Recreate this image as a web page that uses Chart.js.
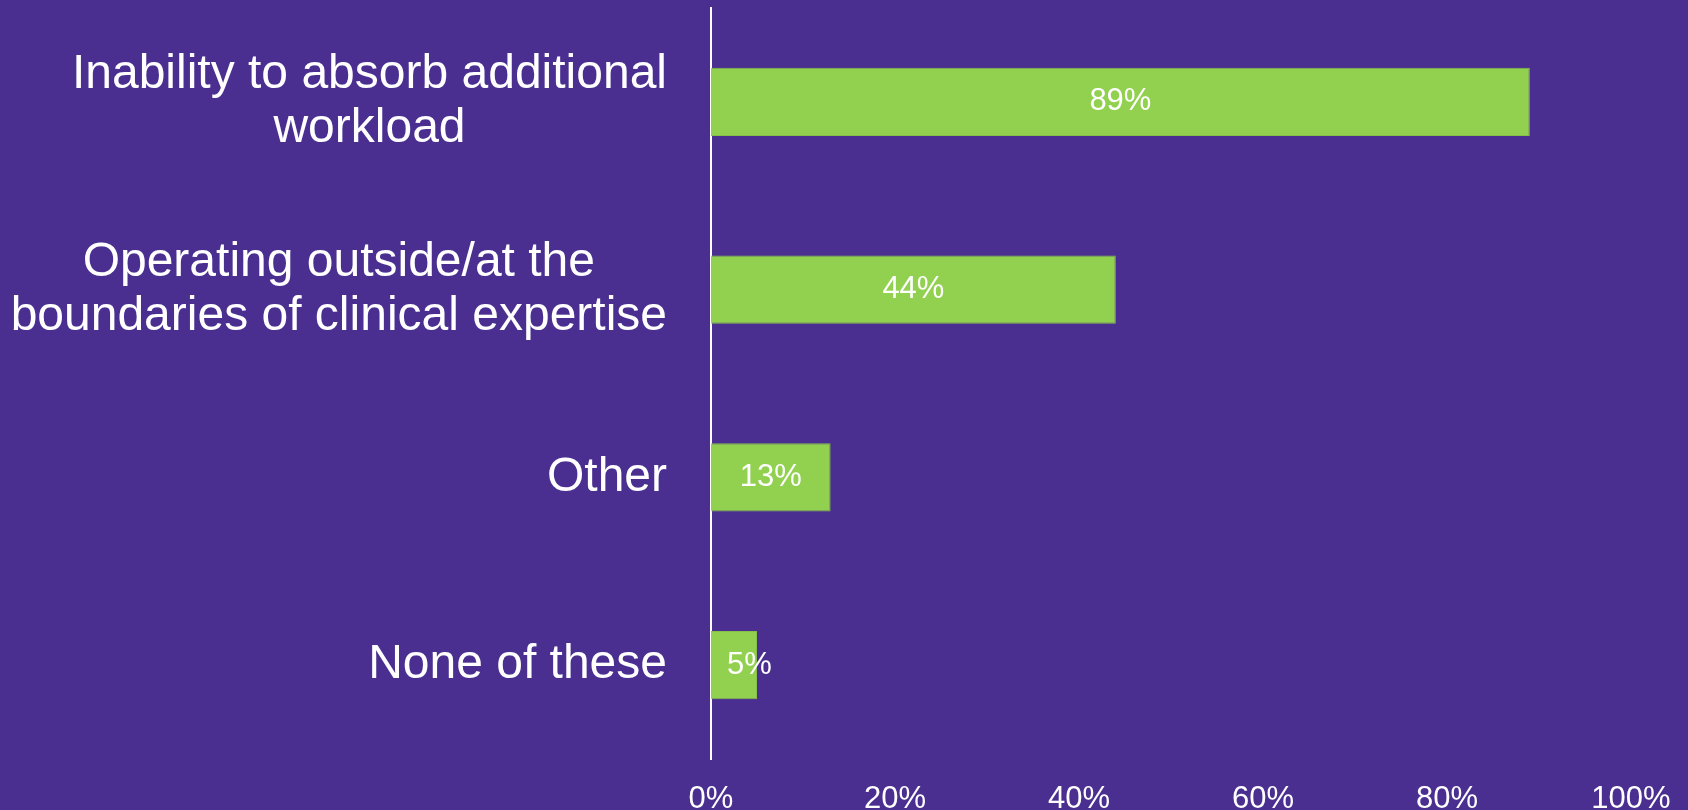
<!DOCTYPE html>
<html>
<head>
<meta charset="utf-8">
<script src="https://cdn.jsdelivr.net/npm/chart.js@4.4.1/dist/chart.umd.min.js"></script>
<style>
html, body { margin: 0; padding: 0; background: #4A2F91; overflow: hidden; }
</style>
</head>
<body>
<canvas id="myChart" width="1688" height="810"></canvas>
<script>
const categories = [
    ['Inability to absorb additional', 'workload'],
    ['Operating outside/at the', 'boundaries of clinical expertise'],
    ['Other'],
    ['None of these']
];
const values = [89, 44, 13, 5];
const tickValues = [0, 20, 40, 60, 80, 100];

const FONT = "'Liberation Sans', Arial, sans-serif";

// category labels: block right aligned, lines centred inside the block
const categoryLabels = {
    id: 'categoryLabels',
    afterDraw(chart) {
        const ctx = chart.ctx;
        const scale = chart.scales.y;
        const rightEdge = chart.chartArea.left - 44;
        const lineHeight = 54;
        ctx.save();
        ctx.font = '48px ' + FONT;
        ctx.fillStyle = '#ffffff';
        ctx.textAlign = 'center';
        ctx.textBaseline = 'middle';
        categories.forEach((lines, i) => {
            const y = scale.getPixelForTick(i);
            const widest = Math.max(...lines.map(l => ctx.measureText(l).width));
            const cx = rightEdge - widest / 2;
            lines.forEach((line, j) => {
                ctx.fillText(line, cx, y + (j - (lines.length - 1) / 2) * lineHeight);
            });
        });
        ctx.restore();
    }
};

// value labels in the middle of each bar (kept a little off the axis for short bars)
const barLabels = {
    id: 'barLabels',
    afterDatasetsDraw(chart) {
        const ctx = chart.ctx;
        const meta = chart.getDatasetMeta(0);
        ctx.save();
        ctx.font = '31px ' + FONT;
        ctx.fillStyle = '#ffffff';
        ctx.textAlign = 'center';
        ctx.textBaseline = 'middle';
        meta.data.forEach((bar, i) => {
            const txt = values[i] + '%';
            const w = ctx.measureText(txt).width;
            const cx = Math.max((bar.x + bar.base) / 2, bar.base + 16 + w / 2);
            ctx.fillText(txt, cx, bar.y);
        });
        ctx.restore();
    }
};

const data = {
    labels: categories,
    datasets: [
        {
            data: values,
            backgroundColor: '#92D050',
            borderColor: '#86C048',
            borderWidth: 1,
            borderSkipped: 'start',
            barPercentage: 0.363,
            categoryPercentage: 1,
        }
    ]
};

const config = {
    type: 'bar',
    data: data,
    options: {
        indexAxis: 'y',
        responsive: false,
        animation: false,
        layout: {
            padding: { top: 8, right: 57, left: 0, bottom: 0 }
        },
        plugins: {
            legend: { display: false },
            tooltip: { enabled: false },
            title: { display: false }
        },
        scales: {
            x: {
                min: 0,
                max: 100,
                afterBuildTicks: s => { s.ticks = tickValues.map(v => ({ value: v })); },
                afterFit: s => { s.height = 51; s.paddingRight = 57; s.paddingLeft = 0; },
                grid: { display: false, drawTicks: false },
                border: { display: false },
                ticks: {
                    color: '#ffffff',
                    padding: 22,
                    maxRotation: 0,
                    font: { family: FONT, size: 31 },
                    callback: v => v + '%'
                }
            },
            y: {
                afterFit: s => { s.width = 711; },
                grid: { display: false, drawTicks: false },
                border: { display: true, color: '#ffffff', width: 2 },
                ticks: { display: false }
            }
        }
    },
    plugins: [categoryLabels, barLabels]
};

const myChart = new Chart(document.getElementById('myChart'), config);
</script>
</body>
</html>
